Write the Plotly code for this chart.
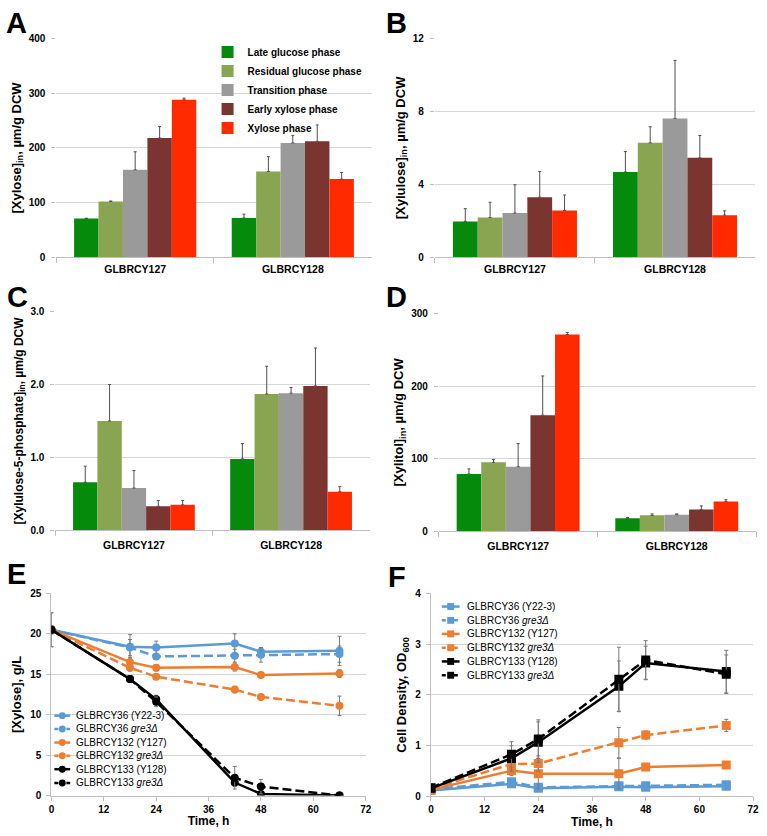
import plotly.graph_objects as go

# ---------------- data ----------------
strains = ["GLBRCY127", "GLBRCY128"]
phases = ["Late glucose phase", "Residual glucose phase", "Transition phase",
          "Early xylose phase", "Xylose phase"]
phase_colors = ["#068A0C", "#8AA552", "#9A9A9A", "#7A3530", "#FF2A00"]

# Panel A: intracellular xylose (umol/g DCW)
xylose_y127 = [71, 102, 160, 218, 288]
xylose_y128 = [72, 157, 209, 212, 143]
xylose_err_y127 = [0.5, 1, 33, 21, 3]
xylose_err_y128 = [7, 27, 14, 30, 12]

# Panel B: intracellular xylulose
xylulose_y127 = [1.97, 2.18, 2.43, 3.30, 2.57]
xylulose_y128 = [4.68, 6.28, 7.62, 5.46, 2.31]
xylulose_err_y127 = [0.70, 0.84, 1.55, 1.41, 0.85]
xylulose_err_y128 = [1.12, 0.88, 3.18, 1.22, 0.24]

# Panel C: intracellular xylulose-5-phosphate
x5p_y127 = [0.66, 1.50, 0.58, 0.33, 0.35]
x5p_y128 = [0.98, 1.87, 1.88, 1.98, 0.53]
x5p_err_y127 = [0.22, 0.50, 0.24, 0.08, 0.06]
x5p_err_y128 = [0.21, 0.38, 0.08, 0.52, 0.07]

# Panel D: intracellular xylitol
xylitol_y127 = [79, 95, 89, 160, 271]
xylitol_y128 = [18, 22, 23, 30, 41]
xylitol_err_y127 = [7, 4, 32, 54, 3]
xylitol_err_y128 = [1, 2, 1, 5, 2.5]

# Panels E/F: time courses
time_h = [0, 18, 24, 42, 48, 66]
series_names = ["GLBRCY36 (Y22-3)", "GLBRCY36 <i>gre3Δ</i>",
                "GLBRCY132 (Y127)", "GLBRCY132 <i>gre3Δ</i>",
                "GLBRCY133 (Y128)", "GLBRCY133 <i>gre3Δ</i>"]
series_colors = ["#5B9BD5", "#5B9BD5", "#ED7D31", "#ED7D31", "#000000", "#000000"]
series_dashed = [False, True, False, True, False, True]

# E: extracellular xylose, g/L
xyl_y36 = [20.5, 18.4, 18.3, 18.8, 17.8, 17.9]
xyl_y36_gre3 = [20.5, 18.3, 17.2, 17.3, 17.4, 17.5]
xyl_y132 = [20.5, 16.5, 15.8, 15.9, 14.9, 15.1]
xyl_y132_gre3 = [20.5, 15.8, 14.7, 13.1, 12.2, 11.1]
xyl_y133 = [20.5, 14.4, 11.9, 1.6, 0.2, 0.0]
xyl_y133_gre3 = [20.5, 14.4, 11.6, 2.2, 1.1, 0.0]
xyl_err_y36 = [2.1, 1.5, 0.8, 1.2, 0.5, 1.8]
xyl_err_y36_gre3 = [2.1, 1.0, 0.3, 0.8, 0.9, 1.0]
xyl_err_y132 = [0.5, 0.6, 0.4, 0.5, 0.3, 0.5]
xyl_err_y132_gre3 = [0.5, 0.4, 0.3, 0.4, 0.3, 1.2]
xyl_err_y133 = [0.3, 0.3, 0.5, 0.5, 0.1, 0.0]
xyl_err_y133_gre3 = [0.3, 0.3, 0.6, 1.4, 0.9, 0.1]

# F: cell density OD600
od_y36 = [0.12, 0.25, 0.16, 0.19, 0.18, 0.20]
od_y36_gre3 = [0.14, 0.29, 0.18, 0.21, 0.21, 0.23]
od_y132 = [0.13, 0.51, 0.45, 0.45, 0.58, 0.62]
od_y132_gre3 = [0.15, 0.64, 0.65, 1.06, 1.21, 1.40]
od_y133 = [0.16, 0.75, 1.07, 2.17, 2.63, 2.46]
od_y133_gre3 = [0.17, 0.83, 1.13, 2.31, 2.69, 2.41]
od_err_y36 = [0.02, 0.05, 0.04, 0.04, 0.04, 0.04]
od_err_y36_gre3 = [0.02, 0.06, 0.05, 0.05, 0.05, 0.05]
od_err_y132 = [0.02, 0.10, 0.30, 0.30, 0.03, 0.03]
od_err_y132_gre3 = [0.02, 0.15, 0.15, 0.30, 0.08, 0.12]
od_err_y133 = [0.05, 0.25, 0.40, 0.50, 0.33, 0.42]
od_err_y133_gre3 = [0.05, 0.25, 0.38, 0.63, 0.38, 0.38]

# ---------------- styling ----------------
W, H = 767, 836
FONT = "Liberation Sans, Arial, sans-serif"
GRID = "#D6D6D6"
AXLINE = "#BFBFBF"


def px_x(p):
    return p / W


def px_y(p):
    return 1 - p / H


fig = go.Figure()


def add_bar_panel(ax, v127, v128, e127, e128, showlegend):
    for i, ph in enumerate(phases):
        fig.add_trace(go.Bar(
            x=strains, y=[v127[i], v128[i]], name=ph,
            marker=dict(color=phase_colors[i], line=dict(width=0)),
            error_y=dict(type="data", symmetric=False,
                         array=[e127[i], e128[i]], arrayminus=[0, 0],
                         color="#505050", thickness=1, width=1.5),
            xaxis="x" + ax, yaxis="y" + ax,
            showlegend=showlegend, legend="legend",
        ))


add_bar_panel("", xylose_y127, xylose_y128, xylose_err_y127, xylose_err_y128, True)
add_bar_panel("2", xylulose_y127, xylulose_y128, xylulose_err_y127, xylulose_err_y128, False)
add_bar_panel("3", x5p_y127, x5p_y128, x5p_err_y127, x5p_err_y128, False)
add_bar_panel("4", xylitol_y127, xylitol_y128, xylitol_err_y127, xylitol_err_y128, False)

xyl_series = [xyl_y36, xyl_y36_gre3, xyl_y132, xyl_y132_gre3, xyl_y133, xyl_y133_gre3]
xyl_errs = [xyl_err_y36, xyl_err_y36_gre3, xyl_err_y132, xyl_err_y132_gre3,
            xyl_err_y133, xyl_err_y133_gre3]
od_series = [od_y36, od_y36_gre3, od_y132, od_y132_gre3, od_y133, od_y133_gre3]
od_errs = [od_err_y36, od_err_y36_gre3, od_err_y132, od_err_y132_gre3,
           od_err_y133, od_err_y133_gre3]

for ax, data, errs, sym, msize in [("5", xyl_series, xyl_errs, "circle", 8),
                                   ("6", od_series, od_errs, "square", 9)]:
    for i in range(6):
        fig.add_trace(go.Scatter(
            x=time_h, y=data[i], name=series_names[i], mode="lines+markers",
            line=dict(color=series_colors[i], width=2.5,
                      dash="9px,4px" if series_dashed[i] else "solid"),
            marker=dict(symbol=sym, size=msize, color=series_colors[i]),
            error_y=dict(type="data", array=errs[i], color="#7A7A7A",
                         thickness=1, width=2),
            xaxis="x" + ax, yaxis="y" + ax, showlegend=False,
        ))

tickfont_b = dict(family=FONT, size=10, color="#000000", weight="bold")
title_font = dict(family=FONT, size=13, color="#000000", weight="bold")


def bar_xaxis(dom, anchor, standoff):
    return dict(domain=dom, anchor=anchor, type="category",
                showline=True, linecolor=AXLINE, linewidth=1,
                ticks="outside", tickson="boundaries", ticklen=5,
                tickcolor=AXLINE, showgrid=False,
                tickfont=dict(family=FONT, size=10.5, color="#000000", weight="bold"),
                ticklabelstandoff=standoff, zeroline=False, fixedrange=True)


def bar_yaxis(dom, anchor, rng, dtick, title, fmt=None, tsize=13):
    d = dict(domain=dom, anchor=anchor, range=rng, dtick=dtick,
             showgrid=True, gridcolor=GRID, gridwidth=1,
             showline=False, zeroline=False, ticks="outside", ticklen=4,
             tickcolor=AXLINE, tickfont=tickfont_b, ticklabelstandoff=4,
             title=dict(text=title, font=dict(title_font, size=tsize), standoff=4))
    if fmt:
        d["tickformat"] = fmt
    return d


def line_xaxis(dom, anchor):
    return dict(domain=dom, anchor=anchor, range=[0, 72], dtick=12,
                showline=True, linecolor=AXLINE, linewidth=1,
                ticks="outside", ticklen=4, tickcolor=AXLINE,
                showgrid=False, zeroline=False, tickfont=tickfont_b,
                title=dict(text="Time, h", font=dict(title_font, size=12), standoff=3))


def line_yaxis(dom, anchor, rng, dtick, title):
    return dict(domain=dom, anchor=anchor, range=rng, dtick=dtick,
                showgrid=True, gridcolor=GRID, gridwidth=1,
                showline=True, linecolor=AXLINE, linewidth=1,
                zeroline=False, ticks="outside", ticklen=4,
                tickcolor=AXLINE, tickfont=tickfont_b, ticklabelstandoff=3,
                title=dict(text=title, font=title_font, standoff=5))


yA = [px_y(255), px_y(33)]
yC = [px_y(532), px_y(310)]
yD = [px_y(533), px_y(312)]
yE = [px_y(801), px_y(596)]
yF = [px_y(802), px_y(596)]

fig.update_layout(
    width=W, height=H,
    margin=dict(l=0, r=0, t=0, b=0),
    paper_bgcolor="white", plot_bgcolor="white",
    barmode="group", bargap=0.225, bargroupgap=0,
    font=dict(family=FONT, color="#000000"),
    xaxis=bar_xaxis([px_x(54), px_x(373)], "y", 2),
    yaxis=bar_yaxis(yA, "x", [0, 400], 100, "[Xylose]<sub>in</sub>, µm/g DCW"),
    xaxis2=bar_xaxis([px_x(437), px_x(761)], "y2", 2),
    yaxis2=bar_yaxis(yA, "x2", [0, 12], 4, "[Xylulose]<sub>in</sub>, µm/g DCW"),
    xaxis3=bar_xaxis([px_x(53), px_x(371)], "y3", 5),
    yaxis3=bar_yaxis(yC, "x3", [0, 3], 1, "[Xylulose-5-phosphate]<sub>in</sub>, µm/g DCW",
                     ".1f", tsize=12),
    xaxis4=bar_xaxis([px_x(441), px_x(762)], "y4", 5),
    yaxis4=bar_yaxis(yD, "x4", [0, 300], 100, "[Xylitol]<sub>in</sub>, µm/g DCW"),
    xaxis5=line_xaxis([px_x(49), px_x(367)], "y5"),
    yaxis5=line_yaxis(yE, "x5", [0, 25], 5, "[Xylose], g/L"),
    xaxis6=line_xaxis([px_x(433), px_x(759)], "y6"),
    yaxis6=line_yaxis(yF, "x6", [0, 4], 1, "Cell Density, OD<sub>600</sub>"),
    legend=dict(x=px_x(207), y=px_y(32), xanchor="left", yanchor="top",
                bgcolor="rgba(0,0,0,0)", borderwidth=0,
                font=dict(family=FONT, size=10, color="#000000", weight="bold"),
                tracegroupgap=0),
    showlegend=True,
)

# panel letters
letters = [("A", 1, 17), ("B", 386, 17), ("C", 2, 295), ("D", 386, 295),
           ("E", 2, 576), ("F", 388, 579)]
for t, lx, ly in letters:
    fig.add_annotation(text=t, x=px_x(lx), y=px_y(ly), xref="paper", yref="paper",
                       xanchor="left", yanchor="middle", showarrow=False,
                       font=dict(family=FONT, size=29, color="#000000", weight="bold"))

# line-panel legends (drawn in paper space)
legend_specs = [
    # swatch x0, x1, text x, row centres (px), marker type
    (52, 68, 72, [720, 733.5, 747.3, 760.7, 774.3, 788.3], "circle"),
    (444, 462, 467, [609.3, 623.3, 637, 651, 665, 679], "rect"),
]
for x0, x1, tx, rows, mk in legend_specs:
    for i, ry in enumerate(rows):
        col = series_colors[i]
        fig.add_shape(type="line", xref="paper", yref="paper",
                      x0=px_x(x0), x1=px_x(x1), y0=px_y(ry), y1=px_y(ry),
                      line=dict(color=col, width=2.5,
                                dash="4px,2px" if series_dashed[i] else "solid"))
        mx = (x0 + x1) / 2
        r = 3.5
        fig.add_shape(type="circle" if mk == "circle" else "rect",
                      xref="paper", yref="paper",
                      x0=px_x(mx - r), x1=px_x(mx + r),
                      y0=px_y(ry + r), y1=px_y(ry - r),
                      fillcolor=col, line=dict(width=0))
        fig.add_annotation(text=series_names[i], x=px_x(tx), y=px_y(ry),
                           xref="paper", yref="paper", xanchor="left",
                           yanchor="middle", showarrow=False,
                           font=dict(family=FONT, size=10, color="#000000"))

fig.write_html("out.html", config={"displayModeBar": False},
               post_script="document.body.style.margin='0';")
